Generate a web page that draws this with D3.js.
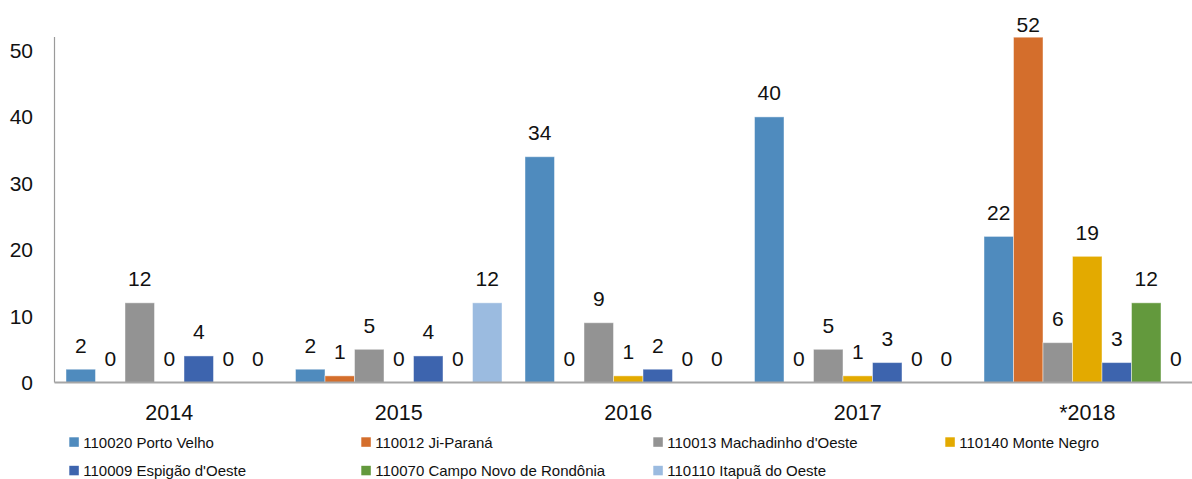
<!DOCTYPE html>
<html>
<head>
<meta charset="utf-8">
<script src="https://cdnjs.cloudflare.com/ajax/libs/d3/7.8.5/d3.min.js"></script>
<style>
  html, body { margin: 0; padding: 0; background: #fff; }
  svg { display: block; font-family: "Liberation Sans", Arial, sans-serif; }
</style>
</head>
<body>
<svg id="chart" width="1192" height="479"></svg>
<script>
const categories = ["2014", "2015", "2016", "2017", "*2018"];
const seriesNames = [
  "110020 Porto Velho",
  "110012 Ji-Paraná",
  "110013 Machadinho d'Oeste",
  "110140 Monte Negro",
  "110009 Espigão d'Oeste",
  "110070 Campo Novo de Rondônia",
  "110110 Itapuã do Oeste"
];
const portoVelho   = [2, 2, 34, 40, 22];
const jiParana     = [0, 1, 0, 0, 52];
const machadinho   = [12, 5, 9, 5, 6];
const monteNegro   = [0, 0, 1, 1, 19];
const espigao      = [4, 4, 2, 3, 3];
const campoNovo    = [0, 0, 0, 0, 12];
const itapua       = [0, 12, 0, 0, 0];
const yTicks = [0, 10, 20, 30, 40, 50];
const colors = ["#4f8bbe", "#d46e2c", "#939393", "#e3aa00", "#3d64ae", "#63993d", "#9bbbe0"];

const seriesValues = [portoVelho, jiParana, machadinho, monteNegro, espigao, campoNovo, itapua];

const svg = d3.select("#chart");
const left = 54.5, groupStep = 229.5, baseY = 382.5;

const y = d3.scaleLinear().domain([0, 52]).range([baseY, 37.2]);
const x0 = d3.scaleBand().domain(categories)
  .range([left, left + groupStep * categories.length]).paddingInner(0).paddingOuter(0);
const x1 = d3.scaleBand().domain(d3.range(seriesNames.length))
  .range([0, x0.bandwidth()]).paddingInner(0).paddingOuter(11.5 / 29.5);

// y axis labels
svg.append("g").selectAll("text").data(yTicks).join("text")
  .attr("x", 33).attr("y", d => y(d)).attr("dy", "0.36em")
  .attr("text-anchor", "end").attr("font-size", 21).attr("fill", "#111")
  .text(d => d);

// bars
const groups = svg.append("g").selectAll("g").data(categories).join("g")
  .attr("transform", d => `translate(${x0(d)},0)`);

groups.each(function(cat, ci) {
  const g = d3.select(this);
  const data = seriesValues.map((vals, si) => ({ si, v: vals[ci] }));
  g.selectAll("rect").data(data.filter(d => d.v > 0)).join("rect")
    .attr("x", d => x1(d.si)).attr("width", x1.bandwidth())
    .attr("y", d => y(d.v)).attr("height", d => y(0) - y(d.v))
    .attr("fill", d => colors[d.si])
    .attr("stroke", "rgba(255,255,255,0.45)").attr("stroke-width", 1);
  g.selectAll("text").data(data).join("text")
    .attr("x", d => x1(d.si) + x1.bandwidth() / 2)
    .attr("y", d => Math.max(y(d.v) - 16.5, 32))
    .attr("text-anchor", "middle").attr("font-size", 21).attr("fill", "#111")
    .text(d => d.v);
});

// axes lines
svg.append("line").attr("x1", left).attr("x2", left).attr("y1", 37).attr("y2", baseY)
  .attr("stroke", "#9a9a9a").attr("stroke-width", 1.2);
svg.append("line").attr("x1", left).attr("x2", left + groupStep * categories.length)
  .attr("y1", baseY).attr("y2", baseY).attr("stroke", "#a6a6a6").attr("stroke-width", 2);

// category labels
svg.append("g").selectAll("text").data(categories).join("text")
  .attr("x", d => x0(d) + x0.bandwidth() / 2).attr("y", 420)
  .attr("text-anchor", "middle").attr("font-size", 21.5).attr("fill", "#111")
  .text(d => d);

// legend
const legendX = [69.3, 361.3, 653.3, 945.3];
const legendY = [447.5, 476];
const legend = svg.append("g").selectAll("g").data(seriesNames).join("g")
  .attr("transform", (d, i) => `translate(${legendX[i % 4]},${legendY[Math.floor(i / 4)]})`);
legend.append("rect").attr("x", 0).attr("y", -10.2).attr("width", 9.5).attr("height", 9.5)
  .attr("fill", (d, i) => colors[i]);
legend.append("text").attr("x", 14).attr("y", 0).attr("font-size", 15).attr("fill", "#111")
  .text(d => d);
</script>
</body>
</html>
